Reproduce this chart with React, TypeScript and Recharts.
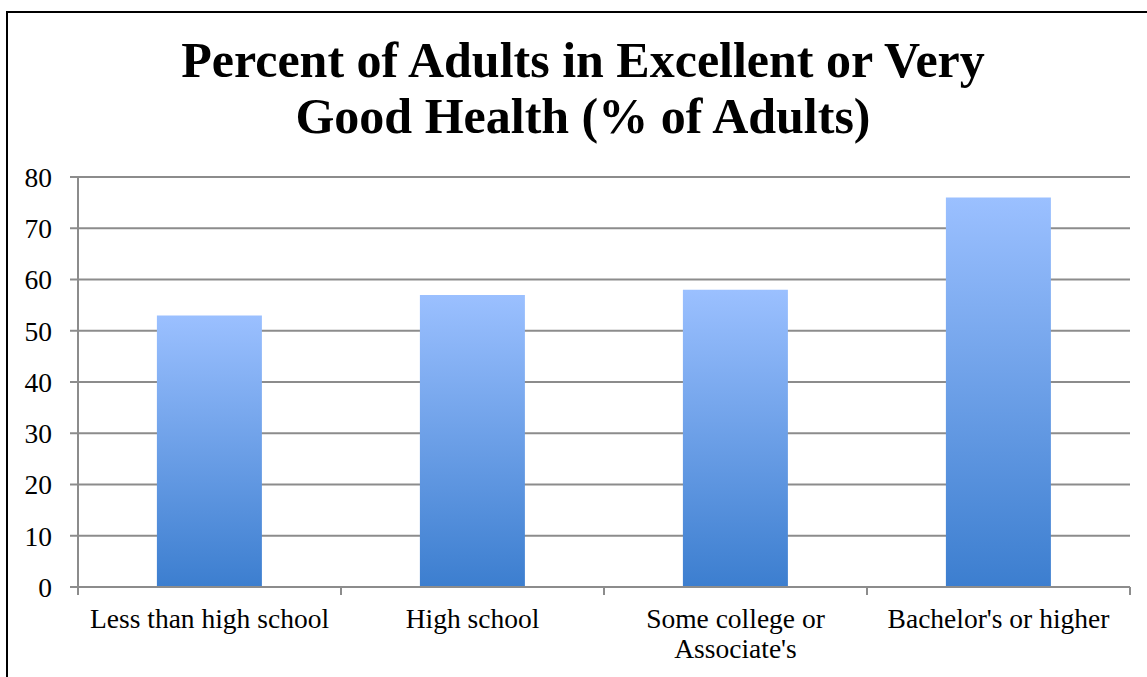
import React from "react";
import { BarChart, Bar, XAxis, YAxis, CartesianGrid } from "recharts";

const categories = [
  "Less than high school",
  "High school",
  "Some college or\nAssociate's",
  "Bachelor's or higher",
];
const percentValues = [53, 57, 58, 76];
const yTicks = [0, 10, 20, 30, 40, 50, 60, 70, 80];

const chartData = categories.map((name, i) => ({ name, value: percentValues[i] }));

const FONT = '"Liberation Serif", "Times New Roman", serif';
const GRID = "#8c8c8c";

interface TickProps {
  x?: number;
  y?: number;
  payload?: { value: string; offset?: number };
}

// category label, plus the small marks at the band edges
const CategoryTick = ({ x = 0, y = 0, payload }: TickProps) => {
  const lines = String(payload?.value ?? "").split("\n");
  const half = payload?.offset ?? 0;
  return (
    <g>
      <line x1={x - half} x2={x - half} y1={y} y2={y + 8} stroke={GRID} strokeWidth={2} />
      <line x1={x + half} x2={x + half} y1={y} y2={y + 8} stroke={GRID} strokeWidth={2} />
      <text x={x} y={y + 41} textAnchor="middle" fill="#000" fontFamily={FONT} fontSize={27.5}>
        {lines.map((line, i) => (
          <tspan key={i} x={x} dy={i === 0 ? 0 : 30}>
            {line}
          </tspan>
        ))}
      </text>
    </g>
  );
};

export default function App() {
  return (
    <div
      style={{
        position: "absolute",
        left: 0,
        top: 0,
        width: 1147,
        height: 677,
        overflow: "hidden",
        background: "#fff",
      }}
    >
      <div
        style={{
          position: "absolute",
          left: 6,
          top: 11,
          width: 1200,
          height: 720,
          border: "2px solid #000",
          boxSizing: "border-box",
        }}
      />
      <div
        style={{
          position: "absolute",
          left: 0,
          top: 32,
          width: 1166,
          textAlign: "center",
          fontFamily: FONT,
          fontWeight: "bold",
          fontSize: 50,
          lineHeight: "56px",
          color: "#000",
        }}
      >
        Percent of Adults in Excellent or Very
        <br />
        Good Health (% of Adults)
      </div>
      <div style={{ position: "absolute", left: 0, top: 0 }}>
        <BarChart
          width={1147}
          height={677}
          data={chartData}
          margin={{ top: 177, right: 17, left: 18, bottom: 20 }}
          barCategoryGap="30%"
        >
          <defs>
            <linearGradient id="barFill" x1="0" y1="0" x2="0" y2="1">
              <stop offset="0%" stopColor="#9bc0ff" />
              <stop offset="100%" stopColor="#3c7ecf" />
            </linearGradient>
          </defs>
          <CartesianGrid stroke={GRID} strokeWidth={2} vertical={false} />
          <XAxis
            dataKey="name"
            height={70}
            axisLine={{ stroke: GRID, strokeWidth: 2 }}
            tickLine={false}
            tickSize={0}
            tickMargin={0}
            interval={0}
            tick={<CategoryTick />}
          />
          <YAxis
            width={60}
            domain={[0, 80]}
            ticks={yTicks}
            interval={0}
            axisLine={{ stroke: GRID, strokeWidth: 2 }}
            tickLine={{ stroke: GRID, strokeWidth: 2 }}
            tickSize={8}
            tickMargin={18}
            tick={{ fill: "#000", fontFamily: FONT, fontSize: 27.5 }}
          />
          <Bar dataKey="value" fill="url(#barFill)" isAnimationActive={false} />
        </BarChart>
      </div>
    </div>
  );
}
